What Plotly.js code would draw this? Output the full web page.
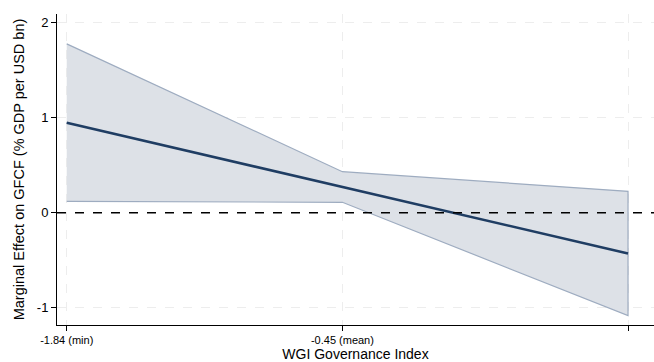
<!DOCTYPE html>
<html>
<head>
<meta charset="utf-8">
<script src="https://cdn.plot.ly/plotly-3.0.1.min.js"></script>
<style>html,body{margin:0;padding:0;background:#fff;}#chart{width:654px;height:362px;}</style>
</head>
<body>
<div id="chart"></div>
<script>
const xVals = [-1.84, -0.45, 0.99];
const tickLabels = ["-1.84 (min)", "-0.45 (mean)", "0.99 (max)"];
const effect = [0.946, 0.270, -0.428];
const upper = [1.776, 0.432, 0.226];
const lower = [0.120, 0.110, -1.082];

const bandX = xVals.concat(xVals.slice().reverse());
const bandY = upper.concat(lower.slice().reverse());

const font = "Liberation Sans, Arial, Helvetica, sans-serif";

const traces = [
  {x: bandX, y: bandY, type: 'scatter', mode: 'lines', fill: 'toself',
   fillcolor: 'rgba(221,225,231,1)', line: {color: '#9eacc0', width: 1.2}, hoverinfo: 'skip'},
  {x: xVals, y: effect, type: 'scatter', mode: 'lines',
   line: {color: '#1f3d63', width: 2.5}}
];

const layout = {
  width: 654, height: 362,
  margin: {l: 57, r: 0, t: 14, b: 37},
  paper_bgcolor: '#fff', plot_bgcolor: '#fff',
  showlegend: false,
  font: {family: font, color: '#000'},
  xaxis: {
    range: [-1.889, 1.121], tickvals: xVals, ticktext: tickLabels,
    tickfont: {size: 11}, ticks: 'outside', ticklen: 5, tickcolor: '#000',
    showline: true, linecolor: '#000', linewidth: 1,
    showgrid: true, gridcolor: '#ededed', griddash: 'dash', gridwidth: 1,
    zeroline: false,
    title: {text: 'WGI Governance Index', font: {size: 14}, standoff: 8}
  },
  yaxis: {
    range: [-1.18, 2.09], tickvals: [-1, 0, 1, 2], ticktext: ['-1','0','1','2'],
    tickfont: {size: 13}, ticks: 'outside', ticklen: 5, tickcolor: '#000',
    showline: true, linecolor: '#000', linewidth: 1,
    showgrid: true, gridcolor: '#ededed', griddash: 'dash', gridwidth: 1,
    zeroline: false,
    title: {text: 'Marginal Effect on GFCF (% GDP per USD bn)', font: {size: 14.5}, standoff: 8}
  },
  shapes: [
    {type: 'line', xref: 'paper', x0: 0, x1: 1, yref: 'y', y0: 0, y1: 0,
     line: {color: '#000', width: 1.3, dash: 'dash'}, layer: 'above'}
  ]
};

Plotly.newPlot('chart', traces, layout, {displayModeBar: false, staticPlot: true});
</script>
</body>
</html>
